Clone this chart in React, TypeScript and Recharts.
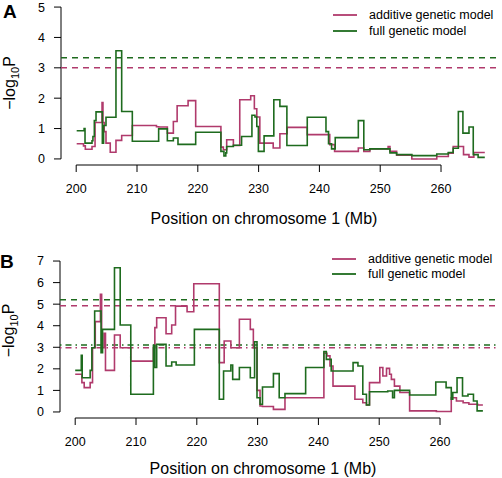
import React from "react";
import { Legend, Line, LineChart, ReferenceLine, XAxis, YAxis } from "recharts";

const FONT = "'Liberation Sans', Arial, sans-serif";
const ADD_COLOR = "#B03A6C";
const FULL_COLOR = "#1E6B1E";

const xTicks = [200, 210, 220, 230, 240, 250, 260];
const yTicksA = [0, 1, 2, 3, 4, 5];
const yTicksB = [0, 1, 2, 3, 4, 5, 6, 7];

// panel A, -log10 P along chromosome 1 (Mb)
const posAddA = [200.08, 201.2, 201.5, 202.6, 203.1, 204.25, 204.4, 204.6, 204.9, 205.6, 206.54, 207.48, 209.23, 213.2, 213.56, 214.99, 215.98, 216.6, 218.4, 219.65, 223.8, 224.2, 224.75, 225.85, 226.9, 228.7, 229.3, 229.7, 230.2, 232.4, 233.5, 234.7, 238.0, 241.7, 242.5, 246.4, 247.3, 248.3, 251.3, 251.6, 252.7, 255.2, 259.3, 261.2, 262.0, 263.7, 264.6, 265.4, 267.2];
const valAddA = [0.5, 0.43, 0.32, 0.41, 1.2, 1.86, 1.2, 0.9, 0.52, 0.22, 0.61, 0.77, 1.1, 1.06, 1.05, 0.85, 1.23, 1.75, 1.92, 1.07, 0.39, 0.3, 0.63, 0.44, 1.95, 2.08, 1.65, 1.38, 0.52, 0.36, 0.83, 1.04, 0.8, 0.47, 0.25, 0.36, 0.25, 0.33, 0.41, 0.25, 0.12, 0.0, 0.08, 0.19, 0.41, 0.14, 0.06, 0.21, 0.21];
const posFullA = [200.08, 201.3, 201.45, 202.6, 202.75, 202.98, 203.26, 204.3, 204.5, 204.9, 206.54, 207.48, 209.23, 213.56, 214.99, 215.98, 216.74, 219.65, 223.8, 224.3, 224.6, 224.75, 225.85, 227.2, 228.9, 229.4, 229.7, 229.96, 230.9, 232.5, 233.5, 234.65, 238.0, 241.08, 241.5, 242.0, 242.6, 246.4, 247.3, 248.3, 251.6, 252.7, 255.2, 259.3, 261.2, 262.0, 262.85, 263.6, 264.6, 265.3, 266.1, 267.2];
const valFullA = [0.93, 1.0, 0.52, 0.6, 0.74, 1.26, 1.55, 0.52, 1.1, 1.37, 3.56, 1.56, 0.58, 0.99, 0.6, 0.69, 0.48, 0.88, 0.25, 0.1, 0.2, 0.41, 0.45, 0.74, 1.44, 1.38, 1.07, 0.25, 0.76, 1.95, 1.73, 0.44, 1.37, 0.9, 0.5, 0.33, 0.7, 1.26, 0.3, 0.33, 0.2, 0.14, 0.11, 0.16, 0.21, 0.35, 1.56, 0.85, 1.05, 0.14, 0.05, 0.05];
const sigA = [3.0, 3.33]; // additive, full

// panel B
const posAddB = [200.0, 201.1, 201.48, 202.46, 202.85, 203.3, 204.15, 204.35, 204.75, 204.98, 206.46, 207.4, 209.14, 212.86, 213.1, 213.4, 214.94, 215.87, 216.5, 218.4, 219.5, 223.7, 224.5, 225.6, 227.0, 228.8, 229.3, 229.9, 230.4, 230.8, 232.6, 234.5, 240.9, 241.4, 241.9, 242.4, 246.0, 247.3, 247.9, 248.4, 250.1, 250.6, 251.2, 251.7, 252.0, 252.5, 253.4, 255.0, 259.4, 261.85, 262.7, 263.8, 264.75, 266.2, 267.05];
const valAddB = [1.75, 1.36, 1.13, 1.36, 2.98, 4.19, 5.46, 2.98, 3.65, 1.93, 3.57, 2.98, 2.36, 2.98, 3.91, 4.37, 3.63, 4.03, 4.91, 4.65, 5.95, 2.29, 3.29, 2.98, 4.3, 3.83, 2.98, 1.0, 0.28, 0.25, 0.12, 0.66, 2.72, 2.6, 2.13, 1.2, 0.59, 0.43, 0.32, 1.36, 2.06, 1.67, 2.02, 1.75, 1.51, 1.2, 0.9, 0.05, 0.02, 0.66, 0.51, 0.43, 0.36, 0.32, 0.32];
const posFullB = [200.0, 201.0, 201.15, 202.46, 202.74, 203.2, 204.25, 204.5, 206.46, 207.4, 209.14, 212.86, 213.1, 213.4, 214.94, 215.87, 216.6, 219.6, 223.7, 224.4, 225.6, 225.9, 227.0, 228.8, 229.5, 229.9, 230.4, 230.8, 232.6, 233.55, 234.5, 237.9, 240.9, 241.3, 242.1, 245.7, 246.5, 247.3, 247.9, 248.4, 251.4, 252.2, 252.5, 255.0, 259.3, 261.0, 261.85, 262.1, 262.8, 263.7, 264.6, 265.5, 266.1, 267.05];
const valFullB = [1.93, 2.63, 1.59, 1.93, 2.98, 4.68, 2.75, 3.83, 6.69, 4.03, 0.82, 3.09, 2.06, 3.14, 2.13, 2.32, 2.18, 3.83, 0.59, 1.9, 2.18, 1.51, 2.06, 1.59, 3.26, 0.66, 0.36, 1.16, 1.78, 0.66, 0.85, 2.06, 2.8, 2.44, 1.9, 2.29, 2.13, 0.82, 0.32, 0.94, 0.97, 0.66, 1.0, 0.79, 1.39, 1.13, 0.59, 0.9, 1.59, 0.74, 0.82, 0.51, 0.05, 0.05];
const sigB = [4.93, 5.2];
const suggB = [2.98, 3.1];

const X_DOMAIN: [number, number] = [197.5, 269.7];

const toSteps = (pos: number[], val: number[]) =>
  pos.map((p, i) => ({ pos: p, val: val[i] }));

const makeYTitle = (shift: number) => (props: any) => {
  const vb = props.viewBox;
  return (
    <text
      transform={`translate(15, ${vb.y + vb.height / 2 + shift}) rotate(-90)`}
      textAnchor="middle"
      fontSize={16}
      fontFamily={FONT}
      fill="#000"
    >
      −log
      <tspan fontSize={11} dy={4}>10</tspan>
      <tspan dy={-4}>P</tspan>
    </text>
  );
};

const makeXTitle = (drop: number) => (props: any) => {
  const vb = props.viewBox;
  return (
    <text
      x={vb.x + vb.width / 2 - 16.5}
      y={vb.y + drop}
      textAnchor="middle"
      fontSize={16}
      fontFamily={FONT}
      fill="#000"
    >
      Position on chromosome 1 (Mb)
    </text>
  );
};

const makeLegend = (rowGap: number) => (props: any) => (
  <svg width={170} height={40}>
    {(props.payload || []).map((p: any, i: number) => (
      <g key={p.value}>
        <line x1={0} x2={24} y1={8 + i * rowGap} y2={8 + i * rowGap} stroke={p.color} strokeWidth={1.8} />
        <text
          x={36}
          y={8 + i * rowGap}
          dominantBaseline="central"
          fontSize={12.5}
          fontFamily={FONT}
          fill="#000"
        >
          {p.value}
        </text>
      </g>
    ))}
  </svg>
);

type PanelProps = {
  additive: { pos: number; val: number }[];
  full: { pos: number; val: number }[];
  yTicks: number[];
  yPad: number;
  sig: number[];
  sugg?: number[];
  top: number;
  xAxisHeight: number;
  legendTop: number;
  rowGap: number;
  titleDrop: number;
  yTitleShift: number;
};

const Panel = (p: PanelProps) => {
  const yMax = p.yTicks[p.yTicks.length - 1];
  const yMin = -p.yPad;
  const tick = { fontSize: 12.5, fontFamily: FONT, fill: "#000" };
  return (
    <LineChart
      width={502}
      height={239}
      margin={{ top: p.top, right: 2, bottom: 0, left: 0 }}
    >
      <XAxis
        type="number"
        dataKey="pos"
        domain={X_DOMAIN}
        ticks={xTicks}
        allowDataOverflow
        axisLine={false}
        tickLine={{ stroke: "#000" }}
        tickSize={7}
        tickMargin={12.5}
        tick={tick}
        height={p.xAxisHeight}
        label={{ content: makeXTitle(p.titleDrop) }}
      />
      <YAxis
        type="number"
        dataKey="val"
        domain={[yMin, yMax + p.yPad]}
        ticks={p.yTicks}
        allowDataOverflow
        axisLine={false}
        tickLine={{ stroke: "#000" }}
        tickSize={7}
        tickMargin={9}
        tick={tick}
        width={61}
        label={{ content: makeYTitle(p.yTitleShift) }}
      />
      <ReferenceLine
        segment={[{ x: X_DOMAIN[0], y: 0 }, { x: X_DOMAIN[0], y: yMax }]}
        stroke="#000"
        ifOverflow="visible"
      />
      <ReferenceLine
        segment={[{ x: xTicks[0], y: yMin }, { x: xTicks[xTicks.length - 1], y: yMin }]}
        stroke="#000"
        ifOverflow="visible"
      />
      <ReferenceLine y={p.sig[0]} stroke={ADD_COLOR} strokeWidth={1.5} strokeDasharray="6 5" />
      <ReferenceLine y={p.sig[1]} stroke={FULL_COLOR} strokeWidth={1.5} strokeDasharray="6 5" />
      {p.sugg && (
        <ReferenceLine y={p.sugg[0]} stroke={ADD_COLOR} strokeWidth={1.5} strokeDasharray="1.5 4 6 4" />
      )}
      {p.sugg && (
        <ReferenceLine y={p.sugg[1]} stroke={FULL_COLOR} strokeWidth={1.5} strokeDasharray="1.5 4 6 4" />
      )}
      <Line
        data={p.additive}
        dataKey="val"
        name="additive genetic model"
        type="stepAfter"
        stroke={ADD_COLOR}
        strokeWidth={1.6}
        dot={false}
        activeDot={false}
        isAnimationActive={false}
      />
      <Line
        data={p.full}
        dataKey="val"
        name="full genetic model"
        type="stepAfter"
        stroke={FULL_COLOR}
        strokeWidth={1.6}
        dot={false}
        activeDot={false}
        isAnimationActive={false}
      />
      <Legend
        layout="vertical"
        align="center"
        verticalAlign="middle"
        content={makeLegend(p.rowGap)}
        wrapperStyle={{ left: 333, top: p.legendTop, width: 170, height: 40 }}
      />
    </LineChart>
  );
};

export default function App() {
  return (
    <div style={{ position: "absolute", left: 0, top: 0, width: 502, height: 478, background: "#fff" }}>
      <div style={{ position: "absolute", left: 0, top: 0 }}>
        <Panel
          additive={toSteps(posAddA, valAddA)}
          full={toSteps(posFullA, valFullA)}
          yTicks={yTicksA}
          yPad={0.2}
          sig={sigA}
          top={1}
          xAxisHeight={74}
          legendTop={7}
          rowGap={16}
          titleDrop={58.7}
          yTitleShift={0}
        />
      </div>
      <div style={{ position: "absolute", left: -1, top: 239 }}>
        <Panel
          additive={toSteps(posAddB, valAddB)}
          full={toSteps(posFullB, valFullB)}
          yTicks={yTicksB}
          yPad={0.28}
          sig={sigB}
          sugg={suggB}
          top={16}
          xAxisHeight={60}
          legendTop={12}
          rowGap={15}
          titleDrop={56}
          yTitleShift={-6}
        />
      </div>
      <svg
        width={502}
        height={478}
        style={{ position: "absolute", left: 0, top: 0, pointerEvents: "none" }}
      >
        <text x={3} y={18.3} fontSize={19} fontWeight="bold" fontFamily={FONT}>A</text>
        <text x={0} y={268.3} fontSize={19} fontWeight="bold" fontFamily={FONT}>B</text>
      </svg>
    </div>
  );
}
